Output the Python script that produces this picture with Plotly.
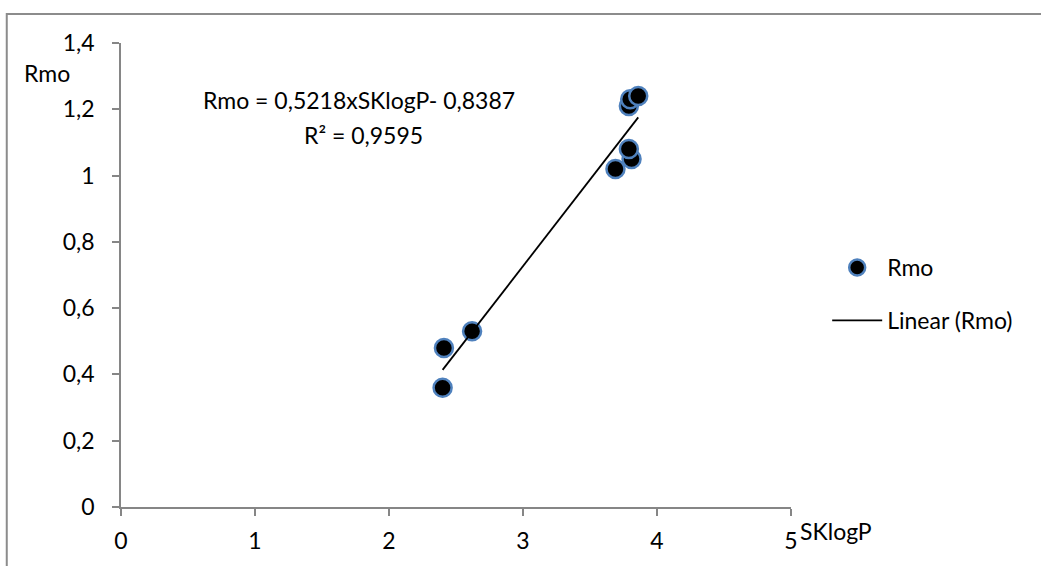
import numpy as np
import plotly.graph_objects as go

# Measured SKlogP vs Rmo values
sklogp = [2.40, 2.41, 2.62, 3.69, 3.81, 3.79, 3.79, 3.80, 3.86]
rmo = [0.36, 0.48, 0.53, 1.02, 1.05, 1.08, 1.21, 1.23, 1.24]

# Linear trendline coefficients and fit quality
slope = 0.5218
intercept = -0.8387
r_squared = 0.9595

x_ticks = [0, 1, 2, 3, 4, 5]
y_ticks = [0, 0.2, 0.4, 0.6, 0.8, 1.0, 1.2, 1.4]

FONT = "Lato"
FS = 23
AXIS_GREY = "#868686"

fit_x = np.array([min(sklogp), max(sklogp)])
fit_y = slope * fit_x + intercept

fig = go.Figure()

fig.add_trace(go.Scatter(
    x=sklogp, y=rmo, mode="markers", name="Rmo",
    legendgroup="pts", legendrank=1,
    marker=dict(size=18, color="black", line=dict(color="#4F81BD", width=2.5)),
))

fig.add_trace(go.Scatter(
    x=fit_x, y=fit_y, mode="lines", name="Linear (Rmo)",
    legendgroup="fit", legendrank=2,
    line=dict(color="black", width=1.8),
))

eq_text = "Rmo = {:.4f}xSKlogP- {:.4f}".format(slope, -intercept).replace(".", ",")
r2_text = "R² = {:.4f}".format(r_squared).replace(".", ",")

fig.add_annotation(x=0.6, y=1.227, xref="x", yref="y", text=eq_text,
                   showarrow=False, xanchor="left", yanchor="middle",
                   font=dict(family=FONT, size=FS, color="black"))
fig.add_annotation(x=1.35, y=1.122, xref="x", yref="y", text=r2_text,
                   showarrow=False, xanchor="left", yanchor="middle",
                   font=dict(family=FONT, size=FS, color="black"))

# Axis titles placed at the axis ends
fig.add_annotation(x=-0.148, y=1.31, xref="paper", yref="y", text="Rmo",
                   showarrow=False, xanchor="left", yanchor="middle",
                   font=dict(family=FONT, size=FS, color="black"))
fig.add_annotation(x=1.011, y=-0.052, xref="paper", yref="paper", text="SKlogP",
                   showarrow=False, xanchor="left", yanchor="middle",
                   font=dict(family=FONT, size=FS, color="black"))

# Outer chart frame (left and top edges visible)
fig.add_shape(type="rect", xref="paper", yref="paper",
              x0=-0.1705, x1=1.4, y0=-0.2, y1=1.0625,
              line=dict(color="#8c8c8c", width=2), fillcolor="rgba(0,0,0,0)",
              layer="below")

fig.update_xaxes(
    range=[0, 5], tickvals=x_ticks, showgrid=False, zeroline=False,
    showline=True, linecolor=AXIS_GREY, linewidth=1.5,
    ticks="outside", ticklen=7, tickcolor=AXIS_GREY, tickwidth=1.5,
    ticklabelstandoff=6,
    tickfont=dict(family=FONT, size=FS, color="black"),
)
fig.update_yaxes(
    range=[0, 1.4], tickvals=y_ticks, showgrid=False, zeroline=False,
    showline=True, linecolor=AXIS_GREY, linewidth=1.5,
    ticks="outside", ticklen=7, tickcolor=AXIS_GREY, tickwidth=1.5,
    ticklabelstandoff=13,
    tickfont=dict(family=FONT, size=FS, color="black"),
)

fig.update_layout(
    width=1041, height=566, autosize=False,
    margin=dict(l=121, r=250, t=43, b=59),
    paper_bgcolor="white", plot_bgcolor="white",
    separators=", ",
    showlegend=True,
    legend=dict(x=1.054, y=0.459, xanchor="left", yanchor="middle",
                itemwidth=50, tracegroupgap=20, bgcolor="rgba(0,0,0,0)",
                font=dict(family=FONT, size=FS, color="black")),
)

fig.write_html("out.html")
